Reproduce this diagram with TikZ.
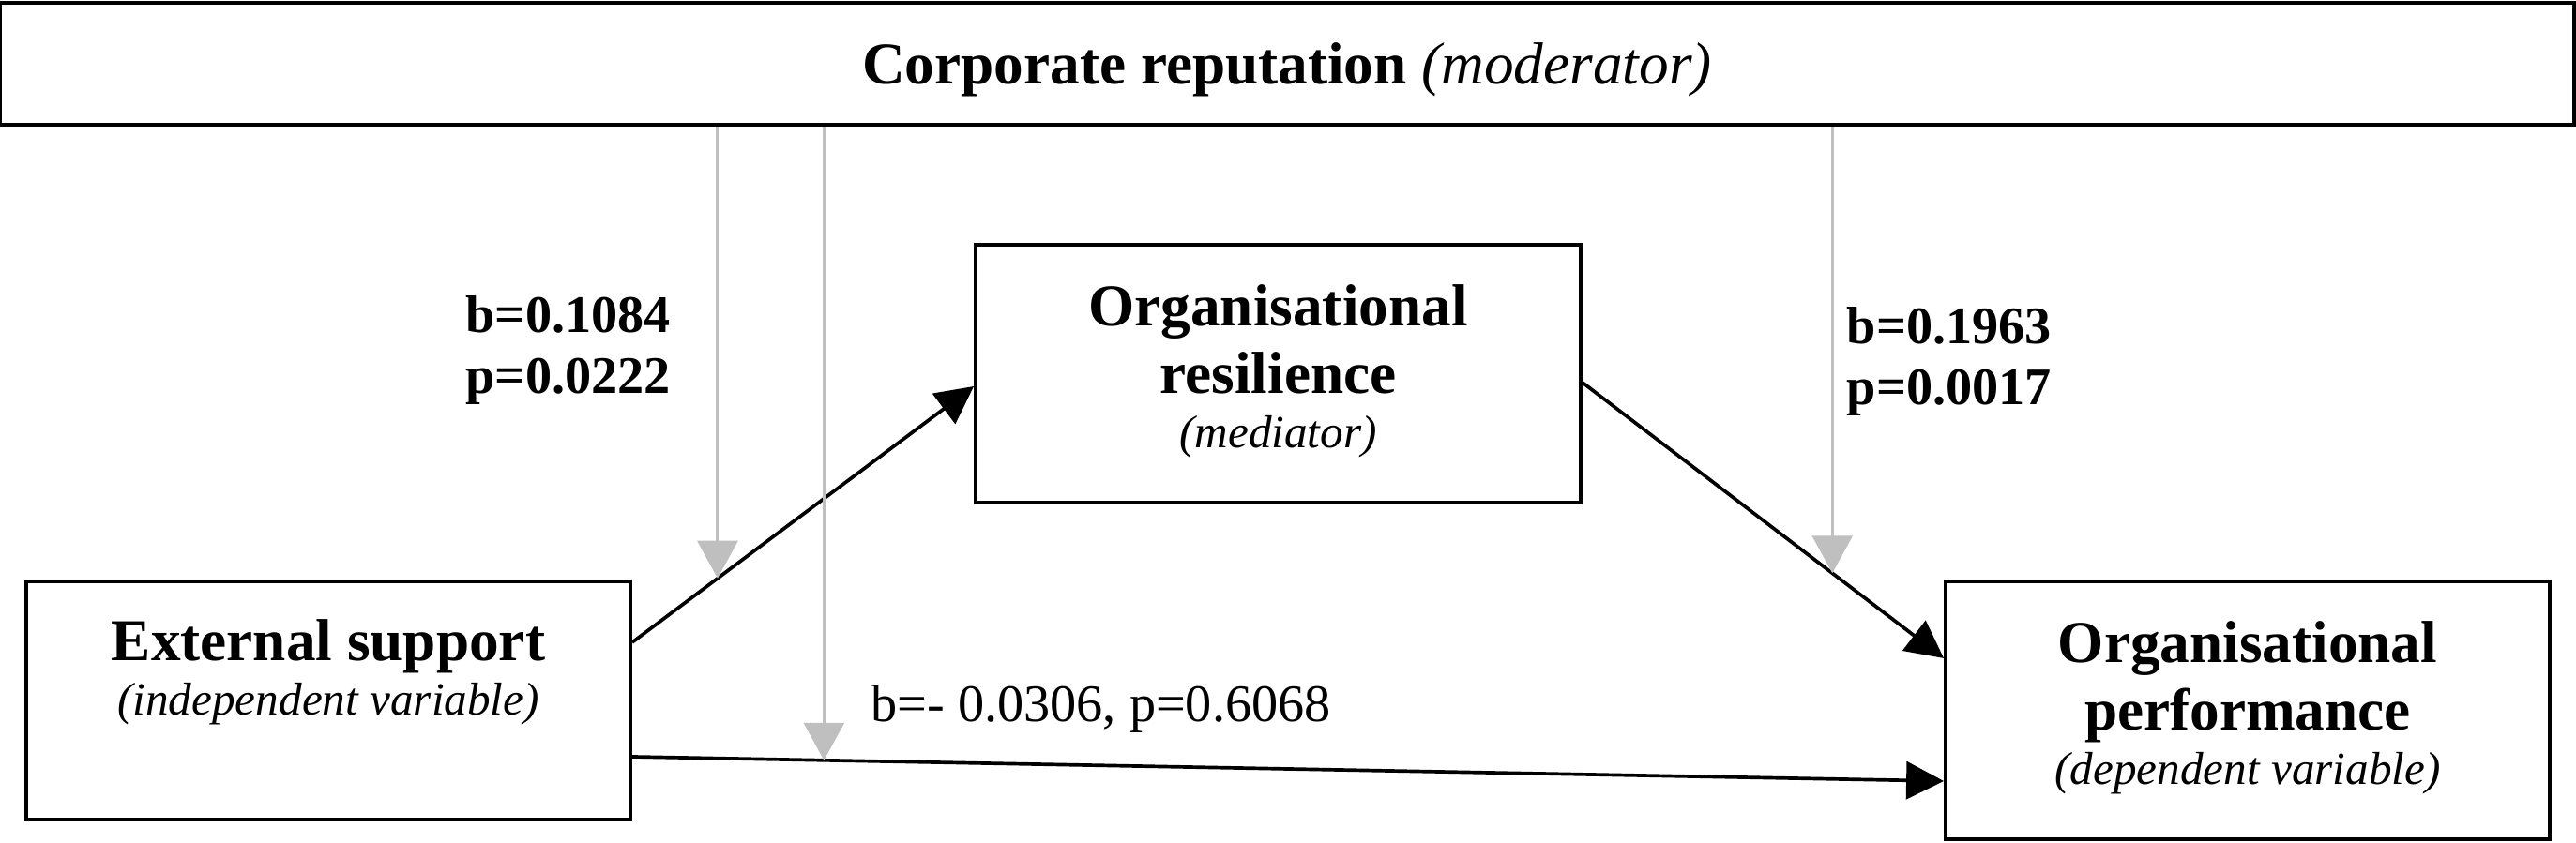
\documentclass[tikz,border=0pt]{standalone}
\usepackage{fontspec}
\setmainfont{Liberation Serif}
\usepackage{tikz}
\usetikzlibrary{arrows.meta,positioning}
\definecolor{modgray}{RGB}{191,191,191}

\begin{document}
\begin{tikzpicture}[x=1cm,y=1cm]
% Styles
\tikzstyle{var box}=[draw, line width=1.1pt, inner sep=0pt]
\tikzstyle{var text}=[align=center, inner sep=0pt, font=\fontsize{18}{20.5}\selectfont\bfseries]
\tikzstyle{coef text}=[align=left, inner sep=0pt, font=\fontsize{16}{18.5}\selectfont\bfseries]
\tikzstyle{path arrow}=[-{Triangle[length=0.4cm,width=0.4cm]}, line width=1.05pt]
\tikzstyle{moderator arrow}=[-{Triangle[length=0.4cm,width=0.43cm]}, draw=modgray, fill=modgray, line width=0.85pt]
\useasboundingbox (0,0) rectangle (27.46,8.99);
% The boxes
\node[var box, minimum width=27.44cm, minimum height=1.30cm, text depth=0pt,
  font=\fontsize{18}{20.5}\selectfont] (top) at (13.72,8.31)
  {\textbf{Corporate reputation} \textit{(moderator)}};
\node[var box, minimum width=6.44cm, minimum height=2.54cm] (ext) at (3.50,1.52) {};
\node[var box, minimum width=6.45cm, minimum height=2.75cm] (res) at (13.625,5.005) {};
\node[var box, minimum width=6.44cm, minimum height=2.75cm] (perf) at (23.96,1.415) {};
% texts in the boxes
\node[var text, below=0.42cm of ext.north] (ext text)
  {External support\\[-4pt] {\fontsize{14}{16}\selectfont\mdseries\itshape (independent variable)}};
\node[var text, below=0.44cm of res.north] (res text)
  {Organisational\\ resilience\\[-4pt] {\fontsize{14}{16}\selectfont\mdseries\itshape (mediator)}};
\node[var text, below=0.44cm of perf.north] (perf text)
  {Organisational\\ performance\\[-4pt] {\fontsize{14}{16}\selectfont\mdseries\itshape (dependent variable)}};
% the paths
\draw[path arrow] ([yshift=0.62cm]ext.east) -- coordinate[pos=0.25] (m1) ([yshift=-0.135cm]res.west);
\draw[path arrow] ([yshift=-0.60cm]ext.east) -- coordinate[pos=0.1462] (m2) ([yshift=-0.755cm]perf.west);
\draw[path arrow] ([yshift=-0.095cm]res.east) -- coordinate[pos=0.6915] (m3) ([yshift=0.555cm]perf.west);
% moderator arrows
\foreach \m in {m1,m2,m3}
  \draw[moderator arrow] (top.south -| \m) -- (\m);
% coefficients
\node[coef text, anchor=north west] (coef a) at (4.96,5.84) {b=0.1084\\ p=0.0222};
\node[coef text, anchor=north west] (coef b) at (19.68,5.72) {b=0.1963\\ p=0.0017};
\node[inner sep=0pt, anchor=base west, font=\fontsize{16}{18.5}\selectfont] (coef c)
  at (9.28,1.29) {b=- 0.0306, p=0.6068};
\end{tikzpicture}
\end{document}
